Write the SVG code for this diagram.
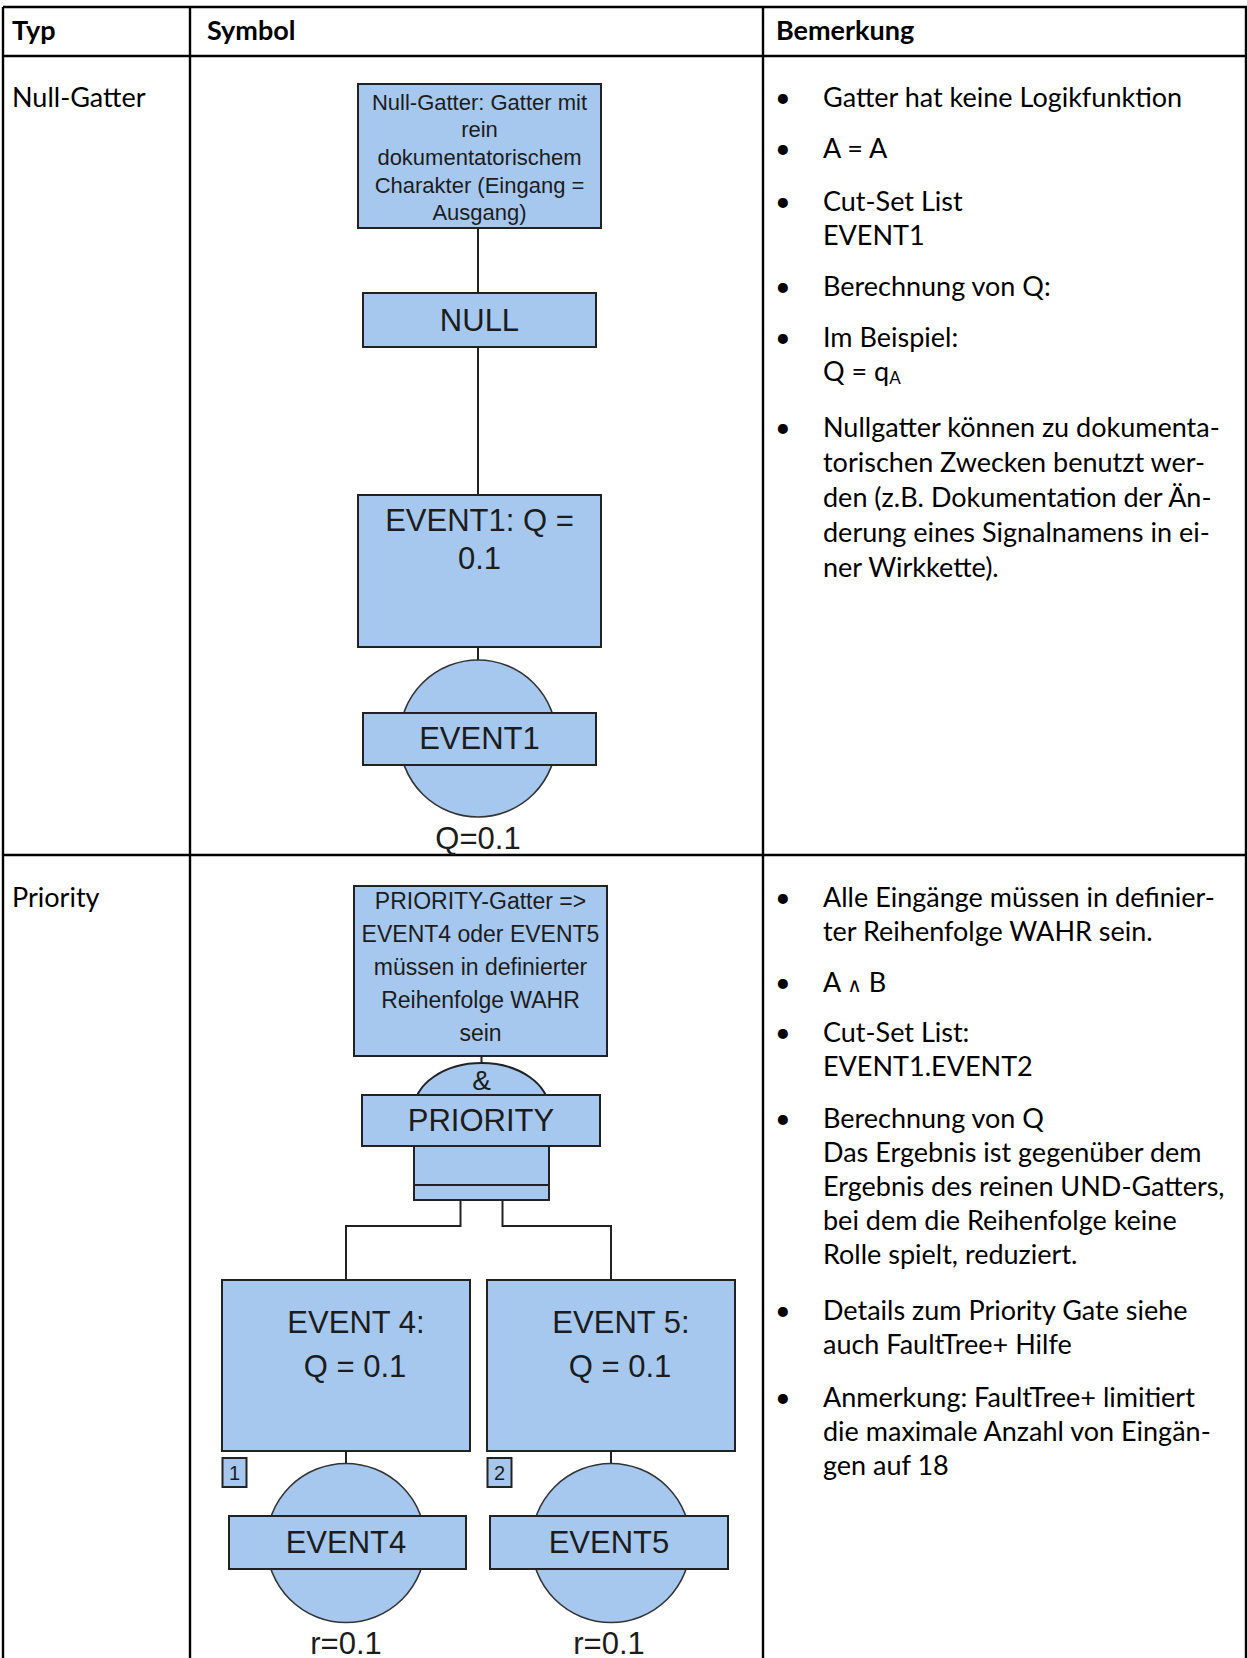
<svg xmlns="http://www.w3.org/2000/svg" width="1247" height="1658" viewBox="0 0 1247 1658">
  <style>
    .grid { stroke: #000; stroke-width: 2.4; fill: none; }
    .cell { font-family: Lato, "Open Sans", "DejaVu Sans", sans-serif; font-size: 27px; fill: #000; }
    .hdr { font-weight: bold; }
    .sh { fill: #a6c8ee; stroke: #222; stroke-width: 2; }
    .circ { fill: #a6c8ee; stroke: #333; stroke-width: 1.6; }
    .lbl { font-family: "Liberation Sans", Arial, sans-serif; fill: #1c1c1c; text-anchor: middle; }
    .big { font-size: 31px; }
    .amp { font-size: 28px; }
    .note { font-size: 22px; }
    .note2 { font-size: 23px; }
    .num { font-size: 20px; }
    .conn { stroke: #222; stroke-width: 2; fill: none; }
  </style>
  <defs>
    <clipPath id="clipNullNote"><rect x="358" y="84" width="243" height="143"/></clipPath>
  </defs>

  <rect width="1247" height="1658" fill="#fff"/>

  <!-- table grid -->
  <g id="table">
    <line class="grid" x1="3" y1="7" x2="1247" y2="7"/>
    <line class="grid" x1="3" y1="56" x2="1247" y2="56"/>
    <line class="grid" x1="3" y1="855" x2="1247" y2="855"/>
    <line class="grid" x1="3" y1="7" x2="3" y2="1658"/>
    <line class="grid" x1="190" y1="7" x2="190" y2="1658"/>
    <line class="grid" x1="763" y1="7" x2="763" y2="1658"/>
    <line class="grid" x1="1246" y1="7" x2="1246" y2="1658"/>
  </g>

  <!-- header row -->
  <g id="header" class="cell hdr">
    <text x="12" y="40">Typ</text>
    <text x="207" y="40">Symbol</text>
    <text x="776" y="40">Bemerkung</text>
  </g>

  <!-- type column -->
  <g id="types" class="cell">
    <text x="12" y="107">Null-Gatter</text>
    <text x="12" y="907">Priority</text>
  </g>

  <!-- connectors of both trees -->
  <g id="connectors">
    <line class="conn" x1="478" y1="228" x2="478" y2="293"/>
    <line class="conn" x1="478" y1="347" x2="478" y2="495"/>
    <line class="conn" x1="478" y1="647" x2="478" y2="660"/>
    <line class="conn" x1="481.5" y1="1056" x2="481.5" y2="1063"/>
    <polyline class="conn" points="460.5,1200 460.5,1226 346,1226 346,1280"/>
    <polyline class="conn" points="502.5,1200 502.5,1226 611,1226 611,1280"/>
    <line class="conn" x1="346" y1="1451" x2="346" y2="1463"/>
    <line class="conn" x1="611" y1="1451" x2="611" y2="1463"/>
  </g>

  <!-- NULL gate tree -->
  <g id="null-note">
    <rect class="sh" x="358" y="84" width="243" height="144"/>
    <g class="lbl note" clip-path="url(#clipNullNote)">
      <text x="479.5" y="110">Null-Gatter: Gatter mit</text>
      <text x="479.5" y="137">rein</text>
      <text x="479.5" y="165">dokumentatorischem</text>
      <text x="479.5" y="193">Charakter (Eingang =</text>
      <text x="479.5" y="220">Ausgang)</text>
    </g>
  </g>
  <g id="null-gate">
    <rect class="sh" x="363" y="293" width="233" height="54"/>
    <text class="lbl big" x="479.5" y="331">NULL</text>
  </g>
  <g id="event1-desc">
    <rect class="sh" x="358" y="495" width="243" height="152"/>
    <text class="lbl big" x="479.5" y="531">EVENT1: Q =</text>
    <text class="lbl big" x="479.5" y="569">0.1</text>
  </g>
  <g id="event1">
    <circle class="circ" cx="478" cy="738.5" r="78.5"/>
    <rect class="sh" x="363" y="713" width="233" height="52"/>
    <text class="lbl big" x="479.5" y="749">EVENT1</text>
    <text class="lbl big" x="478" y="849">Q=0.1</text>
  </g>

  <!-- PRIORITY gate tree -->
  <g id="priority-note">
    <rect class="sh" x="354" y="886" width="253" height="170"/>
    <g class="lbl note2">
      <text x="480.5" y="909">PRIORITY-Gatter =&gt;</text>
      <text x="480.5" y="942">EVENT4 oder EVENT5</text>
      <text x="480.5" y="975">müssen in definierter</text>
      <text x="480.5" y="1008">Reihenfolge WAHR</text>
      <text x="480.5" y="1041">sein</text>
    </g>
  </g>
  <g id="priority-gate">
    <path class="sh" d="M414,1200 V1110 A67.5,47 0 0 1 549,1110 V1200 Z"/>
    <line class="conn" x1="414" y1="1185" x2="549" y2="1185"/>
    <text class="lbl amp" x="481.5" y="1090">&amp;</text>
    <rect class="sh" x="362" y="1095" width="238" height="51"/>
    <text class="lbl big" x="481" y="1131">PRIORITY</text>
  </g>
  <g id="event4-desc">
    <rect class="sh" x="222" y="1280" width="248" height="171"/>
    <text class="lbl big" x="356" y="1333">EVENT 4:</text>
    <text class="lbl big" x="355" y="1377">Q = 0.1</text>
  </g>
  <g id="event5-desc">
    <rect class="sh" x="487" y="1280" width="248" height="171"/>
    <text class="lbl big" x="621" y="1333">EVENT 5:</text>
    <text class="lbl big" x="620" y="1377">Q = 0.1</text>
  </g>
  <g id="input1">
    <rect class="sh" x="222.5" y="1458" width="24" height="29" stroke-width="1.6"/>
    <text class="lbl num" x="234.5" y="1480">1</text>
  </g>
  <g id="input2">
    <rect class="sh" x="487.5" y="1458" width="24" height="29" stroke-width="1.6"/>
    <text class="lbl num" x="499.5" y="1480">2</text>
  </g>
  <g id="event4">
    <circle class="circ" cx="346" cy="1543" r="79.5"/>
    <rect class="sh" x="229" y="1516" width="237" height="53"/>
    <text class="lbl big" x="346" y="1553">EVENT4</text>
    <text class="lbl big" x="346" y="1654">r=0.1</text>
  </g>
  <g id="event5">
    <circle class="circ" cx="611" cy="1543" r="79.5"/>
    <rect class="sh" x="490" y="1516" width="238" height="53"/>
    <text class="lbl big" x="609" y="1553">EVENT5</text>
    <text class="lbl big" x="609" y="1654">r=0.1</text>
  </g>

  <!-- remarks: NULL gate -->
  <g id="remarks-null" class="cell">
    <text x="775" y="107">•</text><text x="823" y="107">Gatter hat keine Logikfunktion</text>
    <text x="775" y="158">•</text><text x="823" y="158">A = A</text>
    <text x="775" y="211">•</text><text x="823" y="211">Cut-Set List</text>
    <text x="823" y="245">EVENT1</text>
    <text x="775" y="296">•</text><text x="823" y="296">Berechnung von Q:</text>
    <text x="775" y="347">•</text><text x="823" y="347">Im Beispiel:</text>
    <text x="823" y="381">Q = q<tspan font-size="17" dy="3">A</tspan></text>
    <text x="775" y="437">•</text><text x="823" y="437">Nullgatter können zu dokumenta-</text>
    <text x="823" y="472">torischen Zwecken benutzt wer-</text>
    <text x="823" y="507">den (z.B. Dokumentation der Än-</text>
    <text x="823" y="542">derung eines Signalnamens in ei-</text>
    <text x="823" y="577">ner Wirkkette).</text>
  </g>

  <!-- remarks: PRIORITY gate -->
  <g id="remarks-priority" class="cell">
    <text x="775" y="907">•</text><text x="823" y="907">Alle Eingänge müssen in definier-</text>
    <text x="823" y="941">ter Reihenfolge WAHR sein.</text>
    <text x="775" y="992">•</text><text x="823" y="992">A <tspan font-size="20">∧</tspan> B</text>
    <text x="775" y="1042">•</text><text x="823" y="1042">Cut-Set List:</text>
    <text x="823" y="1076">EVENT1.EVENT2</text>
    <text x="775" y="1128">•</text><text x="823" y="1128">Berechnung von Q</text>
    <text x="823" y="1162">Das Ergebnis ist gegenüber dem</text>
    <text x="823" y="1196">Ergebnis des reinen UND-Gatters,</text>
    <text x="823" y="1230">bei dem die Reihenfolge keine</text>
    <text x="823" y="1264">Rolle spielt, reduziert.</text>
    <text x="775" y="1320">•</text><text x="823" y="1320">Details zum Priority Gate siehe</text>
    <text x="823" y="1354">auch FaultTree+ Hilfe</text>
    <text x="775" y="1407">•</text><text x="823" y="1407">Anmerkung: FaultTree+ limitiert</text>
    <text x="823" y="1441">die maximale Anzahl von Eingän-</text>
    <text x="823" y="1475">gen auf 18</text>
  </g>
</svg>
